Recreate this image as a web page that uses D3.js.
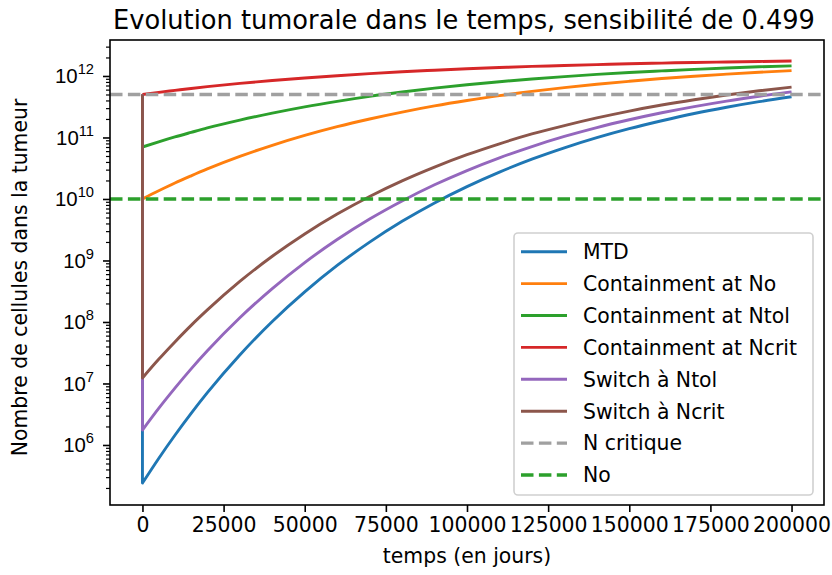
<!DOCTYPE html>
<html>
<head>
<meta charset="utf-8">
<script src="https://cdn.jsdelivr.net/npm/d3@7"></script>
<style>
  html, body { margin: 0; padding: 0; background: #fff; }
  svg { display: block; font-family: "DejaVu Sans", sans-serif; }
</style>
</head>
<body>
<svg id="chart" width="832" height="575"></svg>
<script>
// Time axis (days). The first two samples share t = 0: the starting burden, then the level right after treatment.
const days = [0, 0, 5000, 10000, 15000, 20000, 30000, 40000, 50000, 60000, 70000, 80000, 90000,
  100000, 110000, 120000, 130000, 140000, 150000, 160000, 170000, 180000, 190000, 200000];

// Tumour cell counts per strategy
const mtd = [5e11, 2.40e5, 6.04e5, 1.44e6, 3.27e6, 7.10e6, 2.91e7, 1.02e8, 3.09e8, 8.30e8, 1.99e9, 4.33e9,
  8.63e9, 1.59e10, 2.74e10, 4.44e10, 6.79e10, 9.93e10, 1.39e11, 1.87e11, 2.45e11, 3.10e11, 3.82e11, 4.59e11];
const containNo = [5e11, 1.00e10, 1.36e10, 1.82e10, 2.38e10, 3.08e10, 4.92e10, 7.46e10, 1.08e11, 1.50e11, 2.00e11, 2.59e11,
  3.26e11, 3.99e11, 4.79e11, 5.61e11, 6.47e11, 7.35e11, 8.20e11, 9.08e11, 9.91e11, 1.07e12, 1.15e12, 1.22e12];
const containNtol = [5e11, 7.00e10, 8.49e10, 1.02e11, 1.21e11, 1.43e11, 1.92e11, 2.49e11, 3.15e11, 3.87e11, 4.66e11, 5.48e11,
  6.34e11, 7.21e11, 8.07e11, 8.93e11, 9.77e11, 1.06e12, 1.14e12, 1.21e12, 1.28e12, 1.35e12, 1.41e12, 1.46e12];
const containNcrit = [5e11, 5.00e11, 5.42e11, 5.83e11, 6.27e11, 6.70e11, 7.57e11, 8.43e11, 9.29e11, 1.01e12, 1.09e12, 1.17e12,
  1.24e12, 1.31e12, 1.37e12, 1.43e12, 1.48e12, 1.53e12, 1.58e12, 1.62e12, 1.66e12, 1.69e12, 1.72e12, 1.75e12];
const switchNtol = [5e11, 1.75e6, 3.94e6, 8.41e6, 1.73e7, 3.40e7, 1.17e8, 3.49e8, 9.25e8, 2.19e9, 4.72e9, 9.29e9,
  1.70e10, 2.90e10, 4.67e10, 7.13e10, 1.04e11, 1.45e11, 1.94e11, 2.52e11, 3.18e11, 3.91e11, 4.69e11, 5.52e11];
const switchNcrit = [5e11, 1.23e7, 2.47e7, 4.74e7, 8.81e7, 1.57e8, 4.56e8, 1.17e9, 2.70e9, 5.68e9, 1.10e10, 1.97e10,
  3.30e10, 5.24e10, 7.89e10, 1.14e11, 1.56e11, 2.08e11, 2.69e11, 3.37e11, 4.11e11, 4.91e11, 5.74e11, 6.59e11];

const seriesNames = ["MTD", "Containment at No", "Containment at Ntol", "Containment at Ncrit", "Switch à Ntol", "Switch à Ncrit"];
const seriesValues = [mtd, containNo, containNtol, containNcrit, switchNtol, switchNcrit];
const seriesColors = ["#1f77b4", "#ff7f0e", "#2ca02c", "#d62728", "#9467bd", "#8c564b"];

// Reference levels
const nCritique = 5e11;
const nZero = 1e10;
const refNames = ["N critique", "No"];
const refColors = ["#a0a0a0", "#2ca02c"];

const xTicks = [0, 25000, 50000, 75000, 100000, 125000, 150000, 175000, 200000];
const yDecades = [6, 7, 8, 9, 10, 11, 12];

const titleText = "Evolution tumorale dans le temps, sensibilité de 0.499";
const xLabel = "temps (en jours)";
const yLabel = "Nombre de cellules dans la tumeur";

// Layout
const L = 110, R = 824, T = 40, B = 505;
const fs = 20.4;

const svg = d3.select("#chart");

const x = d3.scaleLinear().domain([-10000, 210000]).range([L, R]);
const y = d3.scaleLog().domain([Math.pow(10, 5.024), Math.pow(10, 12.585)]).range([B, T]);

// Clip for plot contents
svg.append("defs").append("clipPath").attr("id", "plotclip")
  .append("rect").attr("x", L).attr("y", T).attr("width", R - L).attr("height", B - T);

const plot = svg.append("g").attr("clip-path", "url(#plotclip)");

// Curves: vertical drop at t = 0, then smooth regrowth
seriesValues.forEach((vals, i) => {
  const pts = days.map((d, k) => [x(d), y(vals[k])]);
  const grow = d3.line().curve(d3.curveMonotoneX)(pts.slice(1));
  const path = `M${pts[0][0]},${pts[0][1]}L` + grow.slice(1);
  plot.append("path")
    .attr("d", path)
    .attr("fill", "none")
    .attr("stroke", seriesColors[i])
    .attr("stroke-width", 2.9)
    .attr("stroke-linejoin", "round")
    .attr("stroke-linecap", "butt");
});

// Horizontal reference lines
[nCritique, nZero].forEach((v, i) => {
  plot.append("line")
    .attr("x1", L).attr("x2", R)
    .attr("y1", y(v)).attr("y2", y(v))
    .attr("stroke", refColors[i])
    .attr("stroke-width", 3.4)
    .attr("stroke-dasharray", "12.5,5.4");
});

// X axis
const xAxis = d3.axisBottom(x).tickValues(xTicks).tickFormat(d3.format("d"))
  .tickSize(7).tickPadding(6);
const gx = svg.append("g").attr("transform", `translate(0,${B})`).call(xAxis);
gx.select(".domain").remove();
gx.selectAll(".tick line").attr("stroke", "#000").attr("stroke-width", 1.6);
gx.selectAll(".tick text").attr("font-size", fs).attr("fill", "#000")
  .attr("font-family", "DejaVu Sans");

// Y axis: major decades with power labels, minor ticks in between
const yMinor = [];
for (let e = 5; e <= 12; e++) {
  for (let m = 2; m <= 9; m++) {
    const v = m * Math.pow(10, e);
    if (v >= y.domain()[0] && v <= y.domain()[1]) yMinor.push(v);
  }
}
const gyMinor = svg.append("g").attr("transform", `translate(${L},0)`)
  .call(d3.axisLeft(y).tickValues(yMinor).tickFormat("").tickSize(4));
gyMinor.select(".domain").remove();
gyMinor.selectAll(".tick line").attr("stroke", "#000").attr("stroke-width", 1.2);

const gy = svg.append("g").attr("transform", `translate(${L},0)`)
  .call(d3.axisLeft(y).tickValues(yDecades.map(e => Math.pow(10, e))).tickFormat("").tickSize(7));
gy.select(".domain").remove();
gy.selectAll(".tick line").attr("stroke", "#000").attr("stroke-width", 1.6);
gy.selectAll(".tick").each(function(d) {
  const t = d3.select(this).append("text")
    .attr("x", -16).attr("y", 7)
    .attr("text-anchor", "end")
    .attr("font-size", fs)
    .attr("fill", "#000");
  t.append("tspan").text("10");
  t.append("tspan").attr("dy", -9).attr("font-size", fs * 0.72)
    .text(String(Math.round(Math.log10(d))));
});

// Frame
svg.append("rect").attr("x", L).attr("y", T).attr("width", R - L).attr("height", B - T)
  .attr("fill", "none").attr("stroke", "#000").attr("stroke-width", 1.6);

// Title and axis labels
svg.append("text").attr("x", (L + R) / 2 - 3).attr("y", 29)
  .attr("text-anchor", "middle").attr("font-size", 25.7).attr("fill", "#000")
  .text(titleText);
svg.append("text").attr("x", (L + R) / 2).attr("y", 563)
  .attr("text-anchor", "middle").attr("font-size", fs).attr("fill", "#000")
  .text(xLabel);
svg.append("text").attr("transform", `translate(27,${(T + B) / 2 + 5}) rotate(-90)`)
  .attr("text-anchor", "middle").attr("font-size", fs).attr("fill", "#000")
  .text(yLabel);

// Legend
const legendNames = seriesNames.concat(refNames);
const legendColors = seriesColors.concat(refColors);
const lg = svg.append("g");
lg.append("rect").attr("x", 514).attr("y", 233).attr("width", 299).attr("height", 262)
  .attr("rx", 4).attr("ry", 4)
  .attr("fill", "#fff").attr("fill-opacity", 0.8)
  .attr("stroke", "#d0d0d0").attr("stroke-width", 1.6);
legendNames.forEach((name, i) => {
  const cy = 251.7 + i * 31.9;
  const ln = lg.append("line").attr("x1", 521).attr("x2", 567)
    .attr("y1", cy).attr("y2", cy)
    .attr("stroke", legendColors[i]).attr("stroke-width", i < 6 ? 2.9 : 3.4);
  if (i >= 6) ln.attr("stroke-dasharray", "12.5,5.4");
  lg.append("text").attr("x", 583).attr("y", cy + 7.3)
    .attr("font-size", fs).attr("fill", "#000").text(name);
});
</script>
</body>
</html>
